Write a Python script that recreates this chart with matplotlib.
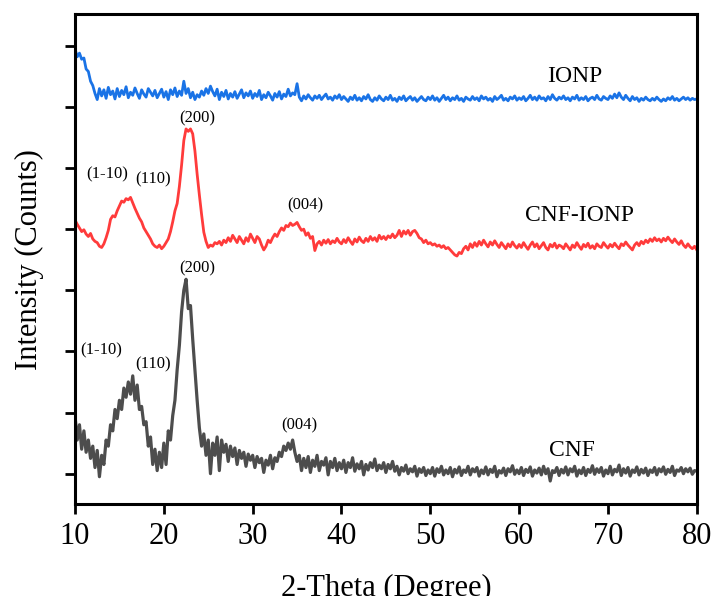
import numpy as np
import matplotlib
matplotlib.use("Agg")
import matplotlib.pyplot as plt

# 2-theta grid (degrees), step 0.25
two_theta = np.arange(10.0, 80.0001, 0.25)

ionp = [
    6.95, 6.82, 6.88, 6.78, 6.80, 6.62, 6.58, 6.42, 6.35, 6.22, 6.12, 6.30, 6.18, 6.28, 6.14, 6.32, 6.20, 6.26, 6.13, 6.30,
    6.17, 6.27, 6.20, 6.33, 6.15, 6.24, 6.19, 6.31, 6.22, 6.14, 6.28, 6.21, 6.16, 6.30, 6.24, 6.18, 6.27, 6.15, 6.22, 6.29,
    6.16, 6.25, 6.12, 6.28, 6.20, 6.31, 6.17, 6.26, 6.19, 6.42, 6.22, 6.30, 6.15, 6.24, 6.12, 6.20, 6.16, 6.26, 6.19, 6.30,
    6.22, 6.34, 6.25, 6.18, 6.29, 6.12, 6.24, 6.17, 6.27, 6.13, 6.22, 6.16, 6.25, 6.14, 6.21, 6.28, 6.15, 6.23, 6.18, 6.26,
    6.14, 6.22, 6.17, 6.27, 6.12, 6.20, 6.15, 6.24, 6.18, 6.11, 6.22, 6.16, 6.25, 6.13, 6.21, 6.17, 6.29, 6.18, 6.23, 6.20,
    6.38, 6.16, 6.10, 6.18, 6.13, 6.20, 6.15, 6.11, 6.18, 6.14, 6.19, 6.12, 6.17, 6.21, 6.13, 6.16, 6.11, 6.18, 6.14, 6.20,
    6.12, 6.17, 6.13, 6.09, 6.16, 6.12, 6.19, 6.11, 6.15, 6.10, 6.17, 6.13, 6.20, 6.12, 6.09, 6.15, 6.11, 6.18, 6.13, 6.10,
    6.16, 6.12, 6.19, 6.11, 6.14, 6.09, 6.16, 6.12, 6.18, 6.10, 6.14, 6.17, 6.11, 6.15, 6.09, 6.13, 6.17, 6.12, 6.10, 6.16,
    6.12, 6.18, 6.11, 6.15, 6.09, 6.14, 6.19, 6.12, 6.16, 6.10, 6.15, 6.12, 6.18, 6.11, 6.14, 6.09, 6.16, 6.13, 6.11, 6.17,
    6.12, 6.15, 6.10, 6.18, 6.13, 6.16, 6.11, 6.14, 6.09, 6.17, 6.12, 6.15, 6.19, 6.11, 6.14, 6.10, 6.16, 6.13, 6.18, 6.11,
    6.15, 6.12, 6.17, 6.10, 6.14, 6.19, 6.12, 6.16, 6.11, 6.18, 6.13, 6.15, 6.10, 6.17, 6.12, 6.20, 6.14, 6.11, 6.16, 6.13,
    6.18, 6.12, 6.15, 6.10, 6.16, 6.13, 6.19, 6.11, 6.15, 6.12, 6.17, 6.10, 6.14, 6.16, 6.12, 6.19, 6.13, 6.11, 6.17, 6.14,
    6.12, 6.18, 6.14, 6.21, 6.15, 6.23, 6.16, 6.12, 6.19, 6.14, 6.10, 6.17, 6.12, 6.15, 6.09, 6.14, 6.11, 6.16, 6.12, 6.10,
    6.14, 6.11, 6.16, 6.12, 6.09, 6.13, 6.10, 6.15, 6.12, 6.17, 6.11, 6.14, 6.10, 6.13, 6.16, 6.12, 6.15, 6.11, 6.14, 6.12,
    6.13,
]

cnf_ionp = [
    4.15, 4.08, 4.02, 3.96, 3.99, 3.92, 3.88, 3.93, 3.84, 3.80, 3.78, 3.72, 3.70, 3.76, 3.86, 3.98, 4.16, 4.22, 4.20, 4.30,
    4.38, 4.46, 4.44, 4.50, 4.48, 4.52, 4.43, 4.34, 4.26, 4.18, 4.12, 4.02, 3.96, 3.90, 3.84, 3.76, 3.72, 3.70, 3.74, 3.68,
    3.72, 3.78, 3.84, 3.96, 4.12, 4.30, 4.42, 4.70, 5.05, 5.45, 5.64, 5.60, 5.64, 5.56, 5.28, 4.90, 4.56, 4.24, 3.95, 3.80,
    3.70, 3.74, 3.72, 3.78, 3.76, 3.80, 3.74, 3.82, 3.78, 3.86, 3.80, 3.90, 3.84, 3.78, 3.88, 3.82, 3.76, 3.86, 3.80, 3.92,
    3.85, 3.78, 3.88, 3.84, 3.74, 3.66, 3.72, 3.82, 3.78, 3.86, 3.92, 3.88, 3.96, 4.02, 3.98, 4.06, 4.04, 4.10, 4.06, 4.08,
    4.11, 4.04, 3.98, 4.00, 3.90, 3.94, 3.85, 3.88, 3.65, 3.76, 3.80, 3.74, 3.82, 3.77, 3.83, 3.76, 3.81, 3.78, 3.85, 3.79,
    3.76, 3.83, 3.78, 3.86, 3.80, 3.75, 3.84, 3.79, 3.87, 3.81, 3.78, 3.85, 3.80, 3.88, 3.82, 3.86, 3.80, 3.90, 3.84, 3.88,
    3.83, 3.89, 3.86, 3.92, 3.86, 3.90, 3.98, 3.88, 3.97, 3.92, 3.98, 3.90, 3.96, 3.98, 3.93, 3.86, 3.84, 3.78, 3.82, 3.76,
    3.78, 3.74, 3.76, 3.72, 3.74, 3.70, 3.73, 3.68, 3.70, 3.66, 3.62, 3.58, 3.56, 3.62, 3.60, 3.68, 3.72, 3.66, 3.76, 3.70,
    3.78, 3.72, 3.80, 3.74, 3.82, 3.76, 3.71, 3.79, 3.74, 3.81, 3.75, 3.70, 3.78, 3.73, 3.68, 3.76, 3.71, 3.79, 3.73, 3.69,
    3.75, 3.70, 3.78, 3.72, 3.67, 3.74, 3.79, 3.71, 3.76, 3.68, 3.73, 3.78, 3.70, 3.66, 3.75, 3.71, 3.77, 3.69, 3.74, 3.72,
    3.68, 3.76, 3.71, 3.66, 3.74, 3.70, 3.78, 3.72, 3.67, 3.75, 3.71, 3.77, 3.69, 3.73, 3.68, 3.76, 3.72, 3.70, 3.78, 3.73,
    3.69, 3.75, 3.71, 3.77, 3.72, 3.68, 3.76, 3.73, 3.79, 3.74, 3.70, 3.66, 3.74, 3.78, 3.73, 3.80, 3.76, 3.82, 3.78, 3.84,
    3.80, 3.86, 3.81, 3.84, 3.79, 3.85, 3.81, 3.87, 3.82, 3.78, 3.84, 3.79, 3.75, 3.81, 3.74, 3.70, 3.76, 3.71, 3.68, 3.72,
    3.66,
]

cnf = [
    0.95, 0.55, 0.80, 0.40, 0.70, 0.35, 0.55, 0.25, 0.45, 0.10, 0.38, -0.05, 0.30, 0.15, 0.55, 0.45, 0.80, 0.70, 1.05, 0.90,
    1.20, 1.05, 1.40, 1.25, 1.50, 1.30, 1.60, 1.20, 1.45, 1.05, 1.10, 0.80, 0.85, 0.45, 0.60, 0.15, 0.40, 0.05, 0.35, 0.10,
    0.50, 0.15, 0.70, 0.55, 0.95, 1.20, 1.70, 2.10, 2.65, 3.00, 3.18, 2.70, 2.75, 2.20, 1.70, 1.20, 0.75, 0.45, 0.65, 0.30,
    0.55, 0.00, 0.50, 0.30, 0.60, 0.05, 0.55, 0.35, 0.48, 0.20, 0.45, 0.28, 0.42, 0.15, 0.38, 0.25, 0.35, 0.12, 0.32, 0.22,
    0.30, 0.10, 0.28, 0.18, 0.25, 0.02, 0.22, 0.14, 0.30, 0.08, 0.26, 0.20, 0.35, 0.28, 0.45, 0.38, 0.50, 0.40, 0.55, 0.35,
    0.20, 0.30, 0.05, 0.25, 0.10, 0.28, 0.02, 0.22, 0.12, 0.30, 0.05, 0.20, 0.14, 0.26, -0.02, 0.20, 0.10, 0.25, 0.05, 0.18,
    0.08, 0.22, 0.02, 0.18, 0.10, 0.26, 0.04, 0.16, 0.08, 0.20, -0.02, 0.15, 0.06, 0.18, 0.10, 0.24, 0.05, 0.14, 0.08, 0.18,
    0.02, 0.15, 0.08, 0.20, 0.04, 0.12, -0.02, 0.10, 0.04, 0.14, 0.00, 0.08, 0.03, 0.12, -0.04, 0.08, 0.02, 0.10, -0.03, 0.06,
    0.00, 0.10, -0.04, 0.08, 0.02, 0.12, -0.02, 0.06, 0.00, 0.10, -0.05, 0.07, 0.01, 0.11, -0.03, 0.06, 0.02, 0.12, -0.02, 0.08,
    0.03, 0.10, -0.04, 0.06, 0.00, 0.11, -0.02, 0.07, 0.02, 0.12, -0.05, 0.05, 0.01, 0.09, -0.03, 0.08, 0.03, 0.13, -0.01, 0.06,
    0.00, 0.10, -0.03, 0.07, 0.02, 0.11, -0.04, 0.06, 0.01, 0.09, -0.02, 0.12, 0.00, 0.08, -0.12, 0.05, 0.02, 0.10, -0.03, 0.07,
    0.01, 0.11, -0.02, 0.08, 0.03, 0.12, -0.04, 0.06, 0.00, 0.10, -0.03, 0.07, 0.02, 0.13, -0.01, 0.08, 0.02, 0.10, -0.04, 0.06,
    0.00, 0.12, -0.02, 0.07, 0.03, 0.14, -0.03, 0.08, 0.01, 0.10, -0.04, 0.06, 0.02, 0.11, -0.02, 0.07, 0.01, 0.09, -0.03, 0.06,
    0.02, 0.10, -0.02, 0.08, 0.03, 0.11, -0.01, 0.07, 0.02, 0.12, -0.03, 0.06, 0.04, 0.10, 0.00, 0.08, 0.03, 0.09, -0.01, 0.05,
    0.04,
]

series_names = ["IONP", "CNF-IONP", "CNF"]
series_colors = ["#1a73e6", "#ff3b3b", "#4d4d4d"]
series_label_pos = [(66.3, 6.49), (66.8, 4.23), (66.0, 0.38)]

peak_labels = ["(1-10)", "(110)", "(200)", "(004)", "(1-10)", "(110)", "(200)", "(004)"]
peak_label_x = [13.6, 18.8, 23.8, 35.9, 13.0, 18.8, 23.8, 35.2]
peak_label_y = [4.89, 4.82, 5.82, 4.39, 2.02, 1.79, 3.36, 0.79]

x_ticks = [10, 20, 30, 40, 50, 60, 70, 80]
y_ticks = [0, 1, 2, 3, 4, 5, 6, 7]

plt.rcParams['font.family'] = ['Liberation Serif', 'DejaVu Serif']

fig = plt.figure(figsize=(7.11, 5.96), dpi=100)
ax = fig.add_axes([0.1055, 0.154, 0.8745, 0.8225])

ax.plot(two_theta, ionp, color=series_colors[0], lw=2.0)
ax.plot(two_theta, cnf_ionp, color=series_colors[1], lw=2.0)
ax.plot(two_theta, cnf, color=series_colors[2], lw=2.3)

for name, (lx, ly) in zip(series_names, series_label_pos):
    ax.text(lx, ly, name, fontsize=17, ha='center', va='center')
for t, px, py in zip(peak_labels, peak_label_x, peak_label_y):
    ax.text(px, py, t, fontsize=12, ha='center', va='center')

ax.set_xlim(10, 80)
ax.set_ylim(-0.5, 7.52)
ax.set_xticks(x_ticks)
ax.set_yticks(y_ticks)
ax.set_yticklabels([])
ax.tick_params(axis='both', direction='out', length=7, width=2)
ax.tick_params(axis='x', labelsize=22, pad=6)
for s in ax.spines.values():
    s.set_linewidth(2.2)

ax.set_xlabel("2-Theta (Degree)", fontsize=22, labelpad=16)
ax.set_ylabel("Intensity (Counts)", fontsize=22, labelpad=12)

fig.savefig("out.png", dpi=100)
